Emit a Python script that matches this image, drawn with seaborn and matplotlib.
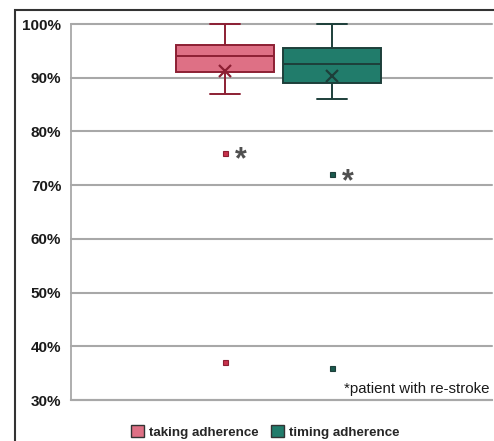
import matplotlib
matplotlib.use("Agg")
import matplotlib.pyplot as plt
from matplotlib.patches import Patch, Rectangle
from matplotlib.ticker import FuncFormatter
import seaborn as sns
import pandas as pd

# ---- data (adherence, %) ----
taking_adherence = [37, 76, 87, 87, 87, 88, 91, 91, 92, 92, 92, 94, 94, 94,
                    94, 95, 95, 95, 96, 96, 96, 96, 97, 97, 99, 99, 100, 100]
timing_adherence = [36, 72, 86, 86, 87, 88, 89, 89, 90, 90, 91, 91, 92, 92,
                    93, 94, 94, 95, 95, 95.5, 95.5, 96, 97, 98, 99, 99, 100, 100]
series_names = ["taking adherence", "timing adherence"]
restroke_values = [76, 72]          # outliers marked with "*"
y_ticks = [30, 40, 50, 60, 70, 80, 90, 100]
note_text = "*patient with re-stroke"

fill_colors = {"taking adherence": "#de7085", "timing adherence": "#217c6b"}
edge_colors = {"taking adherence": "#8c1f33", "timing adherence": "#1d3f3a"}
flier_fill = {"taking adherence": "#c8324c", "timing adherence": "#1a5a4e"}

df = pd.DataFrame({
    "group": ["all"] * (len(taking_adherence) + len(timing_adherence)),
    "series": [series_names[0]] * len(taking_adherence) + [series_names[1]] * len(timing_adherence),
    "value": taking_adherence + timing_adherence,
})

sns.set_theme(style="white")
plt.rcParams["font.family"] = ["Liberation Sans", "DejaVu Sans"]

fig = plt.figure(figsize=(4.94, 4.41), dpi=100)
ax = fig.add_axes([71 / 494, 41 / 441, 421 / 494, 376 / 441])

for name in series_names:
    sub = df[df["series"] == name]
    sns.boxplot(
        data=sub, x="group", y="value", hue="series", hue_order=series_names,
        palette=fill_colors, dodge=True, width=0.8, gap=0.09, saturation=1,
        linecolor=edge_colors[name], linewidth=1.4, whis=1.5,
        showmeans=True,
        meanprops=dict(marker="x", markeredgecolor=edge_colors[name],
                       markerfacecolor=edge_colors[name], markersize=8,
                       markeredgewidth=1.6),
        flierprops=dict(marker="s", markersize=3.6, markerfacecolor=flier_fill[name],
                        markeredgecolor=edge_colors[name], markeredgewidth=0.8),
        capwidths=0.11,
        legend=False, ax=ax,
    )

for ln in ax.lines:
    ln.set_clip_on(False)

# asterisks next to re-stroke outliers
offsets = [-0.2, 0.2]
for xo, v in zip(offsets, restroke_values):
    ax.annotate("*", xy=(xo, v), xytext=(7, -5.5), textcoords="offset points",
                ha="left", va="center", fontsize=22, color="#505050",
                fontweight="bold")

ax.set_xlim(-0.776, 0.798)
ax.set_ylim(30, 100)
ax.set_yticks(y_ticks)
ax.yaxis.set_major_formatter(FuncFormatter(lambda v, p: f"{v:.0f}%"))
ax.set_xticks([])
ax.set_xlabel("")
ax.set_ylabel("")
ax.tick_params(axis="y", length=0, pad=7, labelsize=11, labelcolor="#1a1a1a")
for lbl in ax.get_yticklabels():
    lbl.set_fontweight("bold")
ax.grid(axis="y", color="#a8a8a8", linewidth=1.5)
for gl in ax.get_ygridlines():
    gl.set_clip_on(False)
ax.set_axisbelow(True)
for side in ["top", "right"]:
    ax.spines[side].set_visible(False)
ax.spines["left"].set_color("#a8a8a8")
ax.spines["left"].set_linewidth(1.3)
ax.spines["bottom"].set_color("#a8a8a8")
ax.spines["bottom"].set_linewidth(1.5)

ax.text(0.995, 0.03, note_text, transform=ax.transAxes, ha="right", va="center",
        fontsize=10.8, color="#1a1a1a")

# legend
handles = [Patch(facecolor=fill_colors[n], edgecolor="#333333", linewidth=1.0) for n in series_names]
fig.legend(handles, series_names, loc="center", bbox_to_anchor=(265 / 494, 1 - 432 / 441),
           ncol=2, frameon=False, handlelength=1.0, handleheight=1.0, handletextpad=0.35,
           columnspacing=0.9, prop=dict(family="Liberation Sans", weight="bold", size=9.6))

# outer frame
fig.patches.append(Rectangle((15 / 494, -0.1), 1.2, 1.1 - 10 / 441, transform=fig.transFigure,
                             fill=False, edgecolor="#333333", linewidth=1.5, zorder=0))

fig.savefig("out.png", dpi=100)
